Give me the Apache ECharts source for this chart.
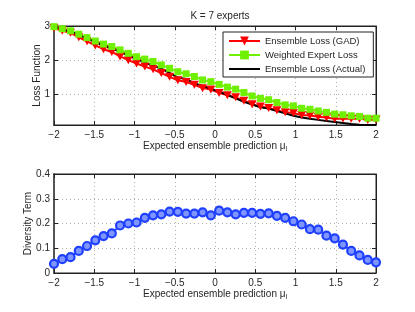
<!DOCTYPE html>
<html><head><meta charset="utf-8">
<script src="https://cdn.jsdelivr.net/npm/echarts@6/dist/echarts.min.js"></script>
<style>html,body{margin:0;padding:0;background:#fff}#c{width:415px;height:312px}</style>
</head><body><div id="c"></div>
<script>
// Expected ensemble prediction (40 samples from -2 to 2)
const xValues = [-2.0000,-1.8974,-1.7949,-1.6923,-1.5897,-1.4872,-1.3846,-1.2821,-1.1795,-1.0769,
  -0.9744,-0.8718,-0.7692,-0.6667,-0.5641,-0.4615,-0.3590,-0.2564,-0.1538,-0.0513,
  0.0513,0.1538,0.2564,0.3590,0.4615,0.5641,0.6667,0.7692,0.8718,0.9744,
  1.0769,1.1795,1.2821,1.3846,1.4872,1.5897,1.6923,1.7949,1.8974,2.0000];
const gadLoss = [2.94,2.86,2.80,2.67,2.55,2.43,2.32,2.24,2.11,2.00,
  1.90,1.81,1.73,1.62,1.51,1.41,1.36,1.28,1.18,1.14,
  1.04,0.97,0.91,0.81,0.71,0.64,0.60,0.53,0.47,0.45,
  0.39,0.38,0.34,0.32,0.28,0.29,0.28,0.28,0.25,0.26];
const weightedExpertLoss = [2.98,2.92,2.86,2.76,2.66,2.56,2.47,2.40,2.30,2.20,
  2.10,2.03,1.96,1.86,1.76,1.66,1.60,1.52,1.42,1.37,
  1.29,1.21,1.15,1.05,0.95,0.88,0.84,0.76,0.69,0.66,
  0.59,0.56,0.51,0.47,0.42,0.40,0.37,0.35,0.30,0.30];
const actualLoss = [3.00,2.90,2.84,2.73,2.63,2.53,2.43,2.35,2.24,2.13,
  2.04,1.93,1.84,1.75,1.63,1.49,1.45,1.32,1.25,1.16,
  1.08,0.98,0.88,0.78,0.70,0.62,0.58,0.51,0.44,0.37,
  0.32,0.28,0.25,0.22,0.19,0.16,0.13,0.11,0.10,0.10];
const diversity = [0.037,0.056,0.064,0.089,0.109,0.132,0.149,0.160,0.192,0.200,
  0.204,0.223,0.233,0.237,0.248,0.247,0.240,0.240,0.245,0.233,
  0.252,0.245,0.237,0.243,0.243,0.239,0.241,0.231,0.223,0.209,
  0.196,0.177,0.175,0.151,0.140,0.115,0.089,0.071,0.053,0.043];
const seriesNames = ['Ensemble Loss (GAD)','Weighted Expert Loss','Ensemble Loss (Actual)'];
const titleText = 'K = 7 experts';

const FONT = '"Liberation Sans", Arial, Helvetica, sans-serif';
const FS = 10;
const pair = arr => xValues.map((x,i)=>[x,arr[i]]);
const fmt = v => (v<0?'\u2212'+(-v):String(v));

const chart = echarts.init(document.getElementById('c'), null, {renderer:'canvas'});
const axisLineStyle = {color:'#222', width:1};
const split = {show:true, lineStyle:{color:'#b0b0b0', type:[1,3], width:1}};
const labelStyle = {color:'#262626', fontSize:FS, fontFamily:FONT};
const xName = 'Expected ensemble prediction \u03bc{sub|l}';
const nameStyle = {color:'#262626', fontSize:FS, fontFamily:FONT,
  rich:{sub:{fontSize:7, fontFamily:FONT, color:'#262626', padding:[6,0,0,0]}}};
const tick = {inside:true, length:4, lineStyle:{color:'#222'}};

function xAx(g){
  return [
    {type:'value', gridIndex:g, min:-2, max:2, interval:0.5, position:'bottom',
     axisLine:{onZero:false, lineStyle:axisLineStyle}, axisTick:tick,
     axisLabel:Object.assign({margin:5, formatter:fmt}, labelStyle), splitLine:split,
     name:xName, nameLocation:'middle', nameGap:15, nameMoveOverlap:false, nameTextStyle:nameStyle},
    {type:'value', gridIndex:g, min:-2, max:2, interval:0.5, position:'top',
     axisLine:{onZero:false, lineStyle:axisLineStyle}, axisTick:tick,
     axisLabel:{show:false}, splitLine:{show:false}}
  ];
}

const option = {
  animation:false,
  backgroundColor:'#fff',
  title:{text:titleText, left:215, textAlign:'center', top:6,
    textStyle:{fontSize:FS, fontWeight:'normal', color:'#262626', fontFamily:FONT}},
  legend:{
    data:[{name:seriesNames[0]},{name:seriesNames[1]},{name:seriesNames[2], itemStyle:{opacity:0}}],
    orient:'vertical', left:223, top:32,
    backgroundColor:'#fff', borderColor:'#222', borderWidth:1, borderRadius:0,
    padding:[4,8,3,5], itemGap:4, itemWidth:31, itemHeight:11,
    textStyle:{fontSize:9.5, color:'#262626', fontFamily:FONT}
  },
  grid:[
    {left:54, right:39, top:26, height:99, show:true, borderColor:'#222', borderWidth:1},
    {left:54, right:39, top:174, height:99, show:true, borderColor:'#222', borderWidth:1}
  ],
  xAxis:[...xAx(0), ...xAx(1)],
  yAxis:[
    {type:'value', gridIndex:0, min:0.1, max:3, splitNumber:3, position:'left',
     axisLine:{show:true, onZero:false, lineStyle:{color:'#555', width:2}}, axisTick:tick,
     axisLabel:Object.assign({margin:4, showMinLabel:false, formatter:v=>Number.isInteger(v)?String(v):''}, labelStyle),
     splitLine:split, name:'Loss Function', nameLocation:'middle', nameGap:12, nameMoveOverlap:false, nameRotate:90, nameTextStyle:nameStyle},
    {type:'value', gridIndex:0, min:0.1, max:3, splitNumber:3, position:'right',
     axisLine:{show:true, onZero:false, lineStyle:axisLineStyle}, axisTick:tick,
     axisLabel:{show:false}, splitLine:{show:false}},
    {type:'value', gridIndex:1, min:0, max:0.4, interval:0.1, position:'left',
     axisLine:{show:true, onZero:false, lineStyle:{color:'#555', width:2}}, axisTick:tick,
     axisLabel:Object.assign({margin:4}, labelStyle),
     splitLine:split, name:'Diversity Term', nameLocation:'middle', nameGap:21, nameMoveOverlap:false, nameRotate:90, nameTextStyle:nameStyle},
    {type:'value', gridIndex:1, min:0, max:0.4, interval:0.1, position:'right',
     axisLine:{show:true, onZero:false, lineStyle:axisLineStyle}, axisTick:tick,
     axisLabel:{show:false}, splitLine:{show:false}}
  ],
  series:[
    {name:seriesNames[0], type:'line', xAxisIndex:0, yAxisIndex:0, data:pair(gadLoss),
     symbol:'path://M0,0L10,0L5,9Z', symbolSize:[9,8], showAllSymbol:true,
     lineStyle:{color:'#ff0000', width:2}, itemStyle:{color:'#ff0000', borderWidth:0}},
    {name:seriesNames[1], type:'line', xAxisIndex:0, yAxisIndex:0, data:pair(weightedExpertLoss),
     symbol:'rect', symbolSize:7, showAllSymbol:true,
     lineStyle:{color:'#6ef000', width:2}, itemStyle:{color:'#6ef000', borderWidth:0}},
    {name:seriesNames[2], type:'line', xAxisIndex:0, yAxisIndex:0, data:pair(actualLoss),
     symbol:'none', lineStyle:{color:'#000', width:2}, itemStyle:{color:'#000'}},
    {name:'Diversity', type:'line', xAxisIndex:2, yAxisIndex:2, data:pair(diversity),
     symbol:'circle', symbolSize:8, showAllSymbol:true,
     lineStyle:{color:'#2040ff', width:2}, itemStyle:{color:'#7f95ff', borderColor:'#2040ff', borderWidth:2.2}}
  ]
};
chart.setOption(option);
</script></body></html>
